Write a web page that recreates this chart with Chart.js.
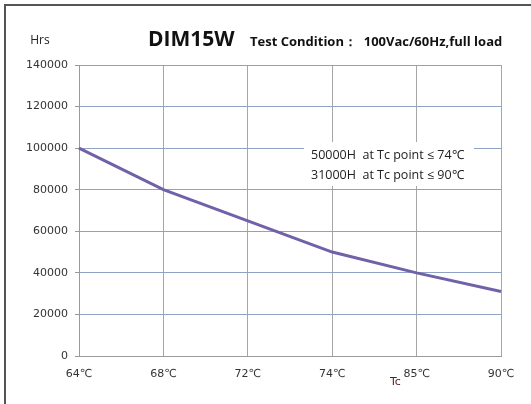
<!DOCTYPE html>
<html>
<head>
<meta charset="utf-8">
<script src="https://cdn.jsdelivr.net/npm/chart.js@4"></script>
<style>
  html, body { margin: 0; padding: 0; background: #fff; }
  #wrap { width: 531px; height: 404px; position: relative; }
</style>
</head>
<body>
<div id="wrap"><canvas id="chart" width="531" height="404"></canvas></div>
<script>
// data
const tcLabels = ["64℃", "68℃", "72℃", "74℃", "85℃", "90℃"];
const lifeHours = [100000, 80000, 65000, 50000, 40000, 31000];
const yTicks = [0, 20000, 40000, 60000, 80000, 100000, 120000, 140000];
const noteLines = ["50000H  at Tc point ≤ 74℃", "31000H  at Tc point ≤ 90℃"];

// frame, title and the note box
const extras = {
  id: "extras",
  beforeDraw(c) {
    const ctx = c.ctx;
    ctx.save();
    ctx.fillStyle = "#fff";
    ctx.fillRect(0, 0, c.width, c.height);
    ctx.strokeStyle = "#555";
    ctx.lineWidth = 2;
    ctx.beginPath();
    ctx.moveTo(5, 404);
    ctx.lineTo(5, 5);
    ctx.lineTo(531, 5);
    ctx.stroke();
    ctx.restore();
  },
  afterDraw(c) {
    const ctx = c.ctx;
    ctx.save();
    ctx.textBaseline = "middle";
    ctx.fillStyle = "#222";
    ctx.font = "12px 'Open Sans'";
    ctx.textAlign = "center";
    ctx.fillText("Hrs", 40, 41);

    ctx.textAlign = "left";
    ctx.fillStyle = "#111";
    ctx.font = "bold 21px 'Open Sans'";
    ctx.fillText("DIM15W", 148, 40);
    ctx.font = "bold 13px 'Open Sans'";
    ctx.fillText("Test Condition：  100Vac/60Hz,full load", 250, 42);

    // note box
    ctx.fillStyle = "#fff";
    ctx.fillRect(304, 142, 170, 44);
    ctx.fillStyle = "#222";
    ctx.font = "12.5px 'Open Sans'";
    ctx.fillText(noteLines[0], 311, 155);
    ctx.fillText(noteLines[1], 311, 175);

    ctx.fillStyle = "#5a1a1a";
    ctx.font = "11px 'DejaVu Sans'";
    ctx.fillText("Tc", 390, 382);
    ctx.restore();
  }
};

const ctx = document.getElementById("chart").getContext("2d");
const chart = new Chart(ctx, {
  type: "line",
  data: {
    labels: tcLabels,
    datasets: [{
      data: lifeHours,
      borderColor: "#7161a9",
      borderWidth: 3,
      pointRadius: 0,
      tension: 0
    }]
  },
  options: {
    responsive: false,
    animation: false,
    layout: { padding: { top: 65, right: 30, left: 0, bottom: 0 } },
    plugins: { legend: { display: false }, tooltip: { enabled: false } },
    scales: {
      x: {
        offset: false,
        grid: { color: "#a6a6a6", drawTicks: false },
        border: { color: "#9a9a9a" },
        ticks: { color: "#333", font: { family: "DejaVu Sans", size: 11 }, padding: 12, maxRotation: 0 },
        afterFit: s => { s.height = 48; }
      },
      y: {
        min: 0,
        max: 140000,
        afterBuildTicks: s => { s.ticks = yTicks.map(v => ({ value: v })); },
        grid: { color: "#8ea3c3", tickColor: "#9a9a9a", tickLength: 4 },
        border: { color: "#9a9a9a" },
        ticks: { color: "#333", font: { family: "DejaVu Sans", size: 11 }, padding: 7, callback: v => String(v) },
        afterFit: s => { s.width = 79; }
      }
    }
  },
  plugins: [extras]
});
</script>
</body>
</html>
